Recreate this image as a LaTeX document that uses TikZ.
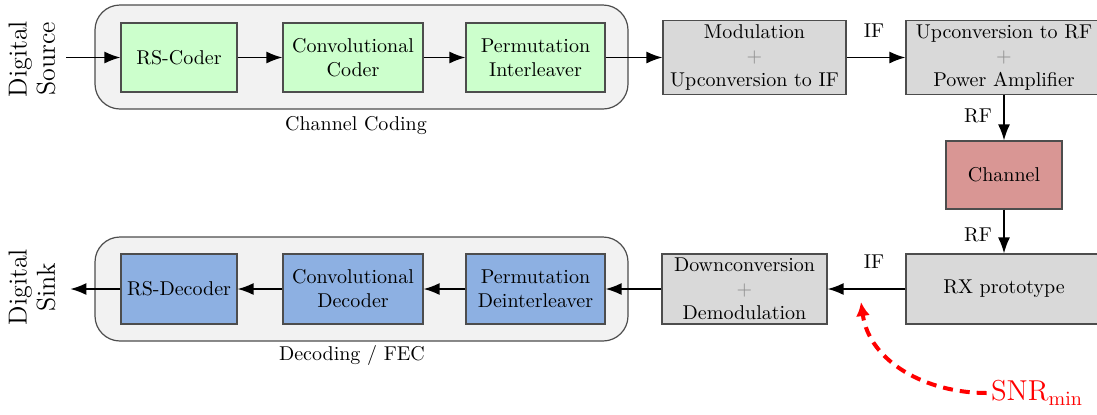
\documentclass[tikz,border=0pt]{standalone}
\usetikzlibrary{arrows.meta}

\definecolor{codegreen}{HTML}{CCFFCC}
\definecolor{decblue}{HTML}{8DB0E2}
\definecolor{rfgray}{HTML}{D9D9D9}
\definecolor{chanred}{HTML}{D99694}
\definecolor{groupfill}{HTML}{F2F2F2}
\definecolor{edge}{HTML}{4D4D4D}

% one drawing unit
\newdimen\pxu \pxu=0.5pt

\tikzset{
  block/.style={draw=edge, line width=0.6pt, minimum height={69*\pxu}, align=center, inner sep=2pt},
  coder/.style={block, fill=codegreen},
  decoder/.style={block, fill=decblue},
  rfblock/.style={block, fill=rfgray},
  chanblock/.style={block, fill=chanred},
  groupbox/.style={draw=edge, line width=0.6pt, fill=groupfill, rounded corners={25*\pxu},
    minimum width={533*\pxu}, minimum height={104*\pxu}, inner sep=0pt},
  conn/.style={line width=0.75pt, -{Latex[length=8pt,width=6pt]}},
  snrarrow/.style={red, line width=2pt, dash pattern=on 5pt off 3.5pt,
    -{Latex[length=7pt,width=7pt]}},
  lbl/.style={inner sep=1pt},
  sidelbl/.style={rotate=90, align=center, font=\fontsize{13}{14}\selectfont}
}
\newcommand{\gplus}{{\color{black!45}$+$}}

\begin{document}
\begin{tikzpicture}[x=\pxu, y=-\pxu]
\useasboundingbox (0,0) rectangle (1097,414);

% grouping frames
\node[groupbox] (cgrp) at (361.5,57) {};
\node[groupbox] (dgrp) at (361.5,289) {};
\node[lbl] (cglbl) at (356,126) {Channel Coding};
\node[lbl] (dglbl) at (352,355) {Decoding / FEC};

% transmit chain
\node[sidelbl] (src) at (32,59) {Digital\\Source};
\node[coder, minimum width={116*\pxu}] (rs) at (179,57.5) {RS-Coder};
\node[coder, minimum width={140*\pxu}] (cc) at (353,57.5) {Convolutional\\Coder};
\node[coder, minimum width={139*\pxu}] (pi) at (535.5,57.5) {Permutation\\Interleaver};
\node[rfblock, minimum width={183*\pxu}] (mod) at (754.5,57.5) {Modulation\\\gplus\\Upconversion to IF};
\node[rfblock, minimum width={196*\pxu}] (up) at (1004,57.5) {Upconversion to RF\\\gplus\\Power Amplifier};

% channel
\node[chanblock, minimum width={116*\pxu}, minimum height={68*\pxu}] (ch) at (1004,175) {Channel};

% receive chain
\node[rfblock, minimum width={196*\pxu}, minimum height={70*\pxu}] (rx) at (1004,289) {RX prototype};
\node[rfblock, minimum width={165*\pxu}, minimum height={70*\pxu}] (dem) at (744.5,289) {Downconversion\\\gplus\\Demodulation};
\node[decoder, minimum width={139*\pxu}, minimum height={70*\pxu}] (pd) at (535.5,289) {Permutation\\Deinterleaver};
\node[decoder, minimum width={140*\pxu}, minimum height={70*\pxu}] (cd) at (353,289) {Convolutional\\Decoder};
\node[decoder, minimum width={116*\pxu}, minimum height={70*\pxu}] (rd) at (179,289) {RS-Decoder};
\node[sidelbl] (snk) at (32,287) {Digital\\Sink};

% connectors
\draw[conn, shorten <=2pt] (src.south |- rs.west) -- (rs.west);
\draw[conn] (rs) -- (cc);
\draw[conn] (cc) -- (pi);
\draw[conn] (pi) -- (mod);
\draw[conn] (mod) -- (up);
\draw[conn] (up) -- (ch);
\draw[conn] (ch) -- (rx);
\draw[conn] (rx) -- (dem);
\draw[conn] (dem) -- (pd);
\draw[conn] (pd) -- (cd);
\draw[conn] (cd) -- (rd);
\draw[conn, shorten >=4pt] (rd.west) -- (snk.south |- rd.west);

% signal labels
\node[lbl] (ifa) at (874,31) {IF};
\node[lbl] (rfa) at (978,116) {RF};
\node[lbl] (rfb) at (978,235) {RF};
\node[lbl] (ifb) at (874,262) {IF};

% minimum SNR marker
\node[text=red, font=\fontsize{14}{17}\selectfont, inner sep=2pt] (snr) at (1037,393) {$\mathrm{SNR}_{\min}$};
\coordinate (snrtip) at (861,302);
\draw[snrarrow] (snr.west) to[out=180, in=-82] (snrtip);
\end{tikzpicture}
\end{document}
